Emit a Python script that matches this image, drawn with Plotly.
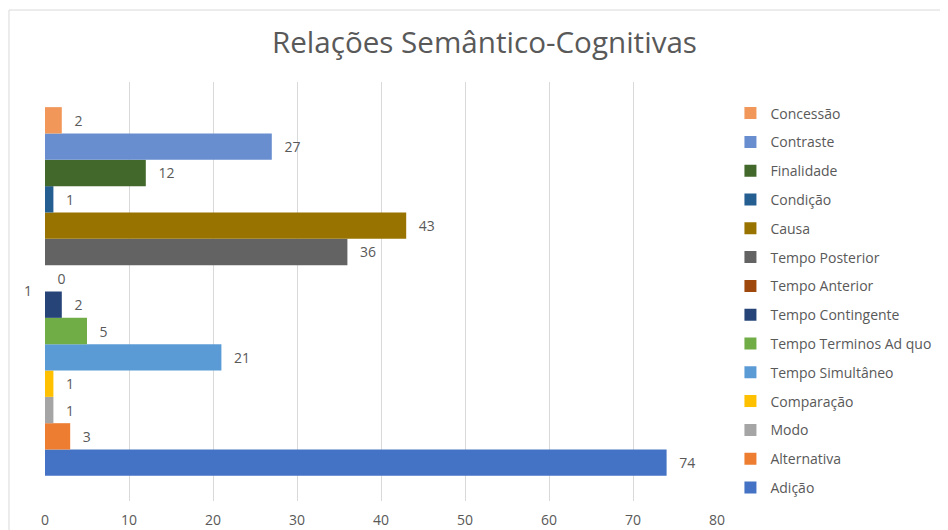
import plotly.graph_objects as go

# Series in plotting order (bottom bar first)
series_names = [
    "Adição", "Alternativa", "Modo", "Comparação", "Tempo Simultâneo",
    "Tempo Terminos Ad quo", "Tempo Contingente", "Tempo Anterior",
    "Tempo Posterior", "Causa", "Condição", "Finalidade", "Contraste",
    "Concessão",
]
series_values = [74, 3, 1, 1, 21, 5, 2, 0, 36, 43, 1, 12, 27, 2]
series_colors = [
    "#4472C4", "#ED7D31", "#A5A5A5", "#FFC000", "#5B9BD5",
    "#70AD47", "#264478", "#9E480E", "#636363", "#997300",
    "#255E91", "#43682B", "#698ED0", "#F1975A",
]
category = ["1"]
x_ticks = [0, 10, 20, 30, 40, 50, 60, 70, 80]

FONT = "'Open Sans', 'Noto Sans', sans-serif"
TEXT = "#595959"
GRID = "#D9D9D9"

fig = go.Figure()

n = len(series_names)
for i, (name, val, color) in enumerate(zip(series_names, series_values, series_colors)):
    fig.add_trace(go.Bar(
        y=category,
        x=[val],
        name=name,
        orientation="h",
        marker=dict(color=color, line=dict(width=0)),
        text=[val],
        texttemplate="\u00a0\u00a0\u2009%{x}",
        textposition="outside",
        textfont=dict(color=TEXT, size=14, family=FONT),
        cliponaxis=False,
        legendgroup=name,
        legendrank=n - i,  # legend lists the top bar first
    ))

# outer chart frame
fig.add_shape(
    type="rect", xref="paper", yref="paper",
    x0=-0.0536, x1=1.5, y0=-0.2, y1=1.1718,
    line=dict(color="#D9D9D9", width=1), fillcolor="rgba(0,0,0,0)",
    layer="below",
)

fig.update_layout(
    title=dict(
        text="Relações Semântico-Cognitivas",
        x=0.5026, xanchor="center", y=0.935, yanchor="middle",
        font=dict(size=29.6, color=TEXT, family=FONT),
    ),
    barmode="group",
    bargap=0.12,
    bargroupgap=0,
    width=948,
    height=530,
    margin=dict(l=37, r=239, t=74, b=37),
    plot_bgcolor="white",
    paper_bgcolor="white",
    font=dict(family=FONT, color=TEXT, size=14),
    xaxis=dict(
        range=[0, 80],
        tickvals=x_ticks,
        showgrid=True,
        gridcolor=GRID,
        gridwidth=1,
        zeroline=False,
        showline=False,
        ticks="",
        ticklabelstandoff=9,
        tickfont=dict(size=14, color=TEXT),
        fixedrange=True,
        automargin=False,
    ),
    yaxis=dict(
        showgrid=False,
        zeroline=False,
        showline=False,
        ticks="",
        ticklabelstandoff=12,
        tickfont=dict(size=14, color=TEXT),
        automargin=False,
    ),
    legend=dict(
        x=1.02, xanchor="left",
        y=0.963, yanchor="top",
        traceorder="grouped",
        tracegroupgap=7.6,
        font=dict(size=14, color=TEXT, family=FONT),
        itemclick=False,
    ),
    showlegend=True,
)

fig.write_html("out.html")
